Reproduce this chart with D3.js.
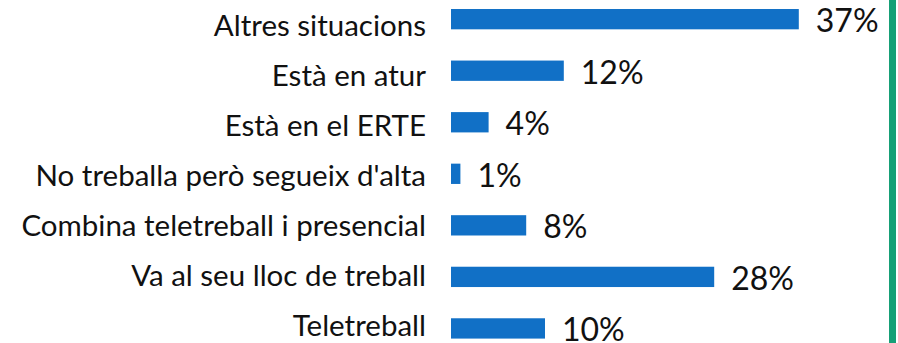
<!DOCTYPE html>
<html>
<head>
<meta charset="utf-8">
<script src="https://cdn.jsdelivr.net/npm/d3@7"></script>
<style>
  html, body { margin: 0; padding: 0; background: #fff; overflow: hidden; }
  svg { display: block; }
</style>
</head>
<body>
<svg id="chart" width="898" height="343"></svg>
<script>
// Situació laboral: share of respondents per category
const categories = [
  "Altres situacions",
  "Està en atur",
  "Està en el ERTE",
  "No treballa però segueix d'alta",
  "Combina teletreball i presencial",
  "Va al seu lloc de treball",
  "Teletreball"
];
const values = [37, 12, 4, 1, 8, 28, 10];
const valueLabels = ["37%", "12%", "4%", "1%", "8%", "28%", "10%"];

const svg = d3.select("#chart");
const W = 898, H = 343;

const x = d3.scaleLinear().domain([0, 40]).range([451, 451 + 376]);

// Bar rows
const y = d3.scaleBand()
  .domain(categories)
  .range([-6.6, 354.2])
  .paddingInner(0.606)
  .paddingOuter(0.303);

// Category label baselines sit on their own, slightly tighter, spacing
const yLabel = d3.scalePoint()
  .domain(categories)
  .range([35.5, 335.5]);

// Green accent rule on the right edge
svg.append("rect")
  .attr("x", 889).attr("y", 0)
  .attr("width", 7).attr("height", H)
  .attr("fill", "#16a077");

// Bars
svg.append("g").selectAll("rect")
  .data(categories)
  .join("rect")
  .attr("x", x(0))
  .attr("y", d => y(d))
  .attr("width", (d, i) => x(values[i]) - x(0))
  .attr("height", y.bandwidth())
  .attr("fill", "#1170c6");

// Category axis (labels only, no line or ticks)
const axis = svg.append("g")
  .attr("transform", `translate(${x(0) - 25},0)`)
  .call(d3.axisLeft(yLabel).tickSize(0).tickPadding(0));
axis.select(".domain").remove();
axis.selectAll("text")
  .attr("font-family", "Lato, 'Open Sans', sans-serif")
  .attr("font-size", 29.5)
  .attr("fill", "#111")
  .attr("dy", 0);

// Value labels
svg.append("g").selectAll("text")
  .data(categories)
  .join("text")
  .attr("x", (d, i) => x(values[i]) + 17)
  .attr("y", d => y(d) + y.bandwidth() / 2)
  .attr("dy", "0.4em")
  .attr("font-family", "Lato, 'Open Sans', sans-serif")
  .attr("font-size", 32)
  .attr("fill", "#111")
  .text((d, i) => valueLabels[i]);
</script>
</body>
</html>
